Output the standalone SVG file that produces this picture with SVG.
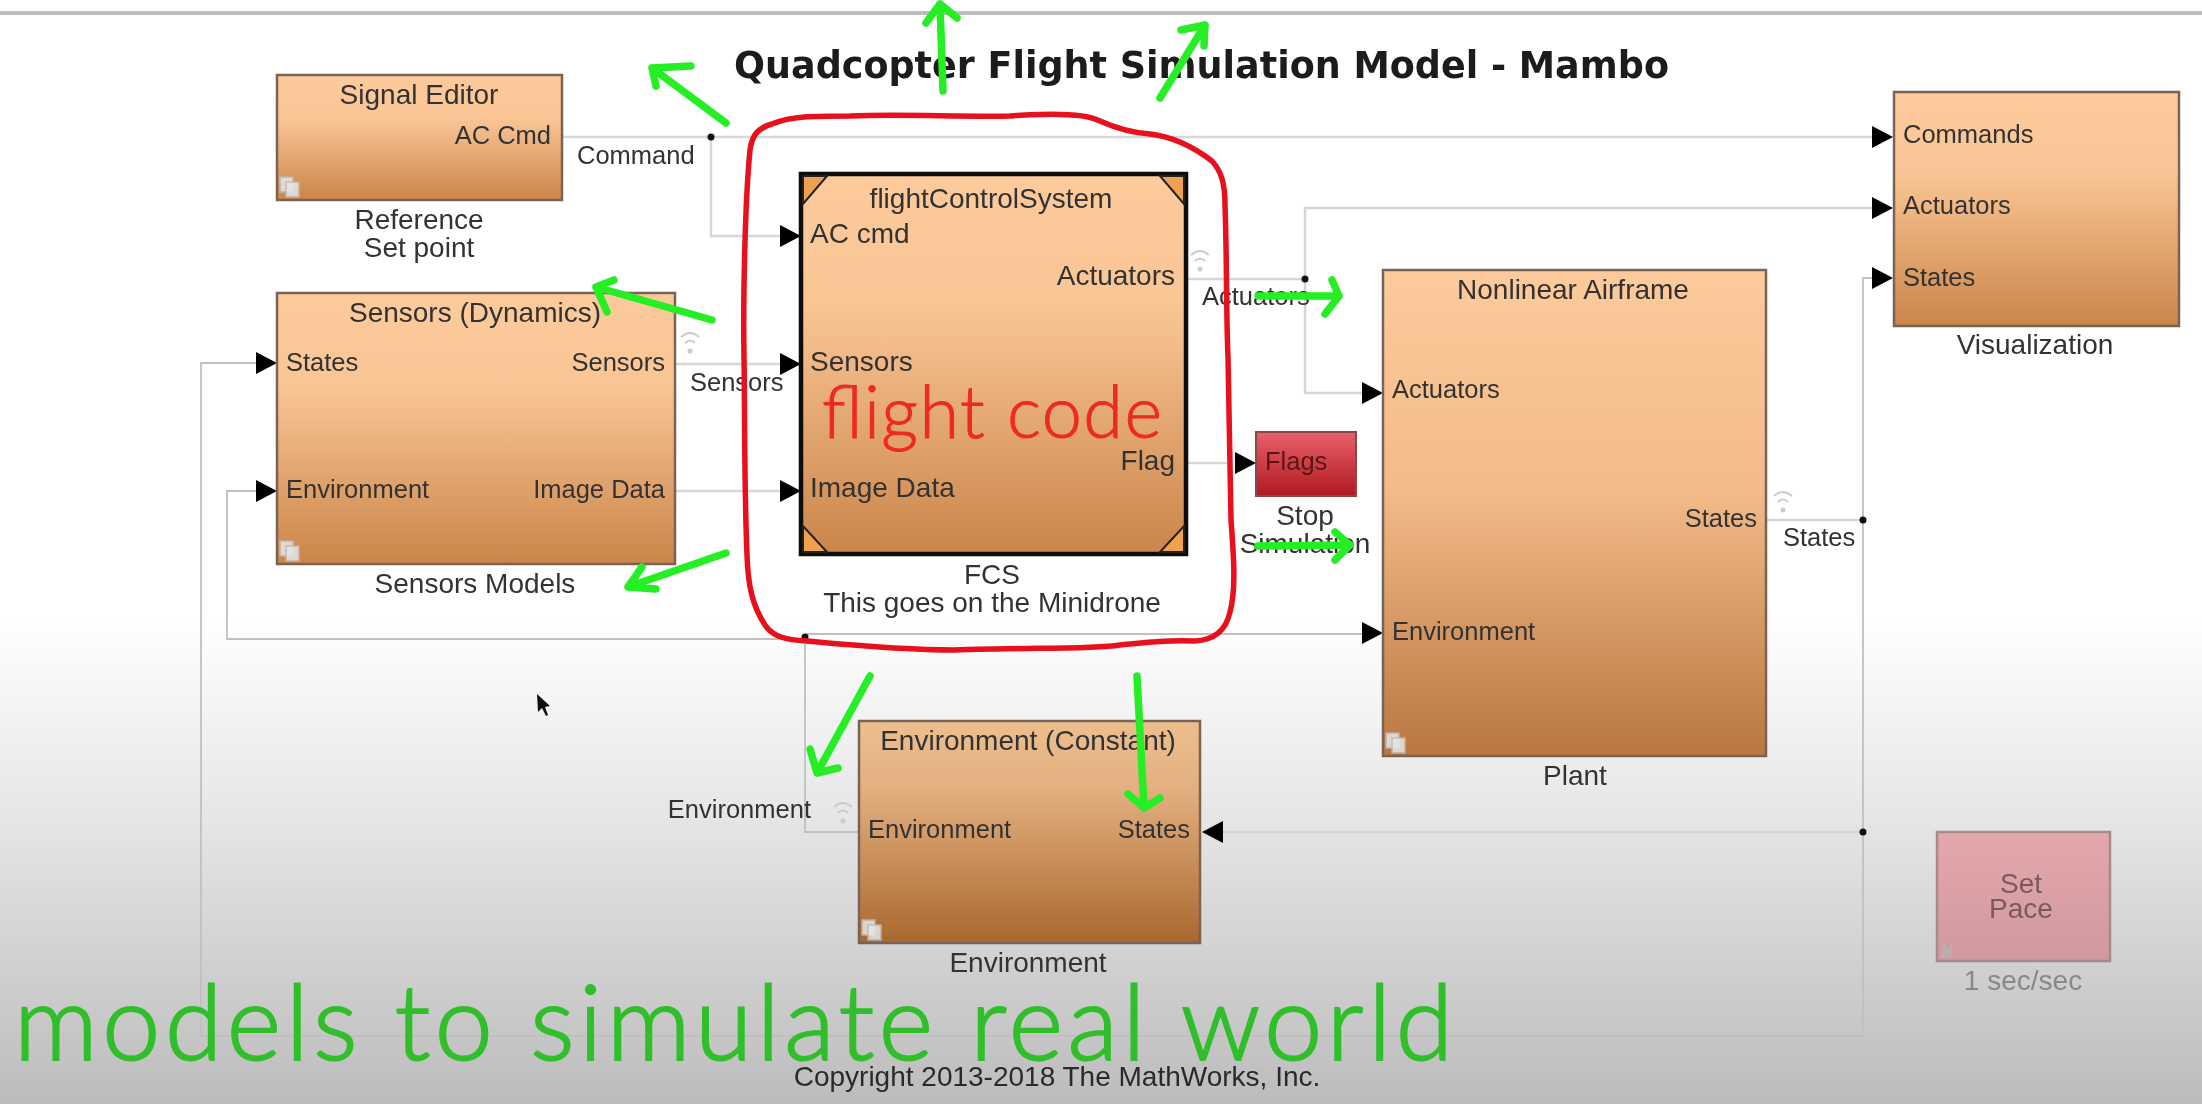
<svg xmlns="http://www.w3.org/2000/svg" width="2202" height="1104" viewBox="0 0 2202 1104">
<style>
text{font-family:"Liberation Sans",Arial,sans-serif;fill:#333}
.p{font-size:25.5px}.t{font-size:28px}.e{text-anchor:end}.m{text-anchor:middle}
.b{stroke:#7a6454;stroke-width:2.5}
.w{fill:none;stroke:#d6d6d6;stroke-width:2.5}
.w2{fill:none;stroke:#c0c0c0;stroke-width:1.8}
.ar{fill:#000}
.j{fill:#111}
.ic{fill:none;stroke:#ccc;stroke-width:2}
.sub{fill:#e6e6e6;stroke:#bbb;stroke-width:1.5;opacity:.85}
.g{fill:none;stroke:#25ee25;stroke-width:7.5;stroke-linecap:round;stroke-linejoin:round}
.hand{font-family:Lato,"Open Sans",sans-serif;font-weight:300}
</style>
<defs>
<linearGradient id="bg" x1="0" y1="0" x2="0" y2="1"><stop offset="0" stop-color="#fff"/><stop offset=".56" stop-color="#fff"/><stop offset=".72" stop-color="#e9e9e9"/><stop offset="1" stop-color="#bcbcbc"/></linearGradient>
<linearGradient id="o" x1="0" y1="0" x2="0" y2="1"><stop offset="0" stop-color="#fdca9b"/><stop offset=".35" stop-color="#f9c595"/><stop offset="1" stop-color="#cb8549"/></linearGradient>
<linearGradient id="oP" x1="0" y1="0" x2="0" y2="1"><stop offset="0" stop-color="#fdca9b"/><stop offset=".45" stop-color="#f2bb89"/><stop offset="1" stop-color="#ba7740"/></linearGradient>
<linearGradient id="oE" x1="0" y1="0" x2="0" y2="1"><stop offset="0" stop-color="#ecbe8e"/><stop offset=".3" stop-color="#e4b080"/><stop offset="1" stop-color="#a9682f"/></linearGradient>
<linearGradient id="r" x1="0" y1="0" x2="0" y2="1"><stop offset="0" stop-color="#e8606a"/><stop offset="1" stop-color="#b01a20"/></linearGradient>
<linearGradient id="pk" x1="0" y1="0" x2="0" y2="1"><stop offset="0" stop-color="#e5a8ac"/><stop offset="1" stop-color="#cf999e"/></linearGradient>
<filter id="soft" x="0" y="0" width="100%" height="100%"><feGaussianBlur stdDeviation="0.7"/></filter>
<path id="ah" d="M-21,-11 L0,0 L-21,11 Z"/>
<g id="wifi"><path class="ic" d="M-9,-11 Q0,-19 9,-11 M-5,-5 Q0,-10 5,-5"/><circle cx="0" cy="3" r="2.5" fill="#ccc"/></g>
<g id="subi"><rect class="sub" x="0" y="0" width="13" height="15"/><rect class="sub" x="6" y="5" width="13" height="15"/></g>
</defs>
<rect width="2202" height="1104" fill="url(#bg)"/>
<g filter="url(#soft)">
<rect x="0" y="11" width="2202" height="4" fill="#bdbdbd"/>
<text id="title" x="734" y="78" font-size="37" font-weight="700" textLength="935" lengthAdjust="spacingAndGlyphs" style="font-family:'DejaVu Sans',sans-serif;fill:#1c1c1c">Quadcopter Flight Simulation Model - Mambo</text>

<g id="connectors">
<path class="w" d="M562,137 H1872"/>
<path class="w" d="M711,137 V236 H780"/>
<path class="w" d="M675,364 H780"/>
<path class="w" d="M675,491 H780"/>
<path class="w2" d="M256,363 H201 V1036 H1863 V278 H1872"/>
<path class="w2" d="M256,491 H227 V639 H805"/>
<path class="w2" d="M805,634 H1362"/>
<path class="w2" d="M805,634 V832 H859"/>
<path class="w" d="M1186,279 H1305 V208 H1872"/>
<path class="w" d="M1305,279 V393 H1362"/>
<path class="w" d="M1186,463 H1233"/>
<path class="w" d="M1766,520 H1863"/>
<path class="w" d="M1223,832 H1863"/>
<use href="#ah" class="ar" x="801" y="236"/>
<use href="#ah" class="ar" x="801" y="364"/>
<use href="#ah" class="ar" x="801" y="491"/>
<use href="#ah" class="ar" x="277" y="363"/>
<use href="#ah" class="ar" x="277" y="491"/>
<use href="#ah" class="ar" x="1893" y="137"/>
<use href="#ah" class="ar" x="1893" y="208"/>
<use href="#ah" class="ar" x="1893" y="278"/>
<use href="#ah" class="ar" x="1383" y="393"/>
<use href="#ah" class="ar" x="1383" y="633"/>
<use href="#ah" class="ar" x="1256" y="463"/>
<path class="ar" d="M1202,832 L1223,821 V843 Z"/>
<circle class="j" cx="711" cy="137" r="3.5"/>
<circle class="j" cx="1305" cy="279" r="3.5"/>
<circle class="j" cx="1863" cy="520" r="3.5"/>
<circle class="j" cx="1863" cy="832" r="3.5"/>
<circle class="j" cx="805" cy="637" r="3.5"/>
<text class="p" x="577" y="164">Command</text>
<text class="p" x="690" y="391">Sensors</text>
<text class="p" x="1202" y="305">Actuators</text>
<text class="p" x="1783" y="546">States</text>
<text class="p e" x="811" y="818">Environment</text>
<use href="#wifi" x="690" y="348"/>
<use href="#wifi" x="1200" y="266"/>
<use href="#wifi" x="843" y="818"/>
<use href="#wifi" x="1783" y="507"/>
</g>

<g id="signal-editor">
<rect class="b" x="277" y="75" width="285" height="125" fill="url(#o)"/>
<text class="t m" x="419" y="104">Signal Editor</text>
<text class="p e" x="551" y="144">AC Cmd</text>
<use href="#subi" x="280" y="177"/>
<text class="t m" x="419" y="229">Reference</text>
<text class="t m" x="419" y="257">Set point</text>
</g>
<g id="sensors">
<rect class="b" x="277" y="293" width="398" height="271" fill="url(#o)"/>
<text class="t m" x="475" y="322">Sensors (Dynamics)</text>
<text class="p" x="286" y="371">States</text>
<text class="p e" x="665" y="371">Sensors</text>
<text class="p" x="286" y="498">Environment</text>
<text class="p e" x="665" y="498">Image Data</text>
<use href="#subi" x="280" y="541"/>
<text class="t m" x="475" y="593">Sensors Models</text>
</g>
<g id="fcs">
<rect x="801" y="174" width="385" height="380" fill="url(#o)" stroke="#111" stroke-width="4.5"/>
<path d="M803,176 H827 L803,204 Z M1184,176 H1160 L1184,204 Z M803,552 H827 L803,526 Z M1184,552 H1160 L1184,526 Z" fill="#f0a050" stroke="#222" stroke-width="2"/>
<text class="t m" x="991" y="208">flightControlSystem</text>
<text class="t" x="810" y="243">AC cmd</text>
<text class="t e" x="1175" y="285">Actuators</text>
<text class="t" x="810" y="371">Sensors</text>
<text class="t e" x="1175" y="470">Flag</text>
<text class="t" x="810" y="497">Image Data</text>
<text class="t m" x="992" y="584">FCS</text>
<text class="t m" x="992" y="612">This goes on the Minidrone</text>
</g>
<g id="flags">
<rect x="1256" y="432" width="100" height="64" fill="url(#r)" stroke="#8a4a4a" stroke-width="2"/>
<text class="p" x="1265" y="470" style="fill:#5a1612">Flags</text>
<text class="t m" x="1305" y="525">Stop</text>
<text class="t m" x="1305" y="553">Simulation</text>
</g>
<g id="plant">
<rect class="b" x="1383" y="270" width="383" height="486" fill="url(#oP)"/>
<text class="t m" x="1573" y="299">Nonlinear Airframe</text>
<text class="p" x="1392" y="398">Actuators</text>
<text class="p" x="1392" y="640">Environment</text>
<text class="p e" x="1757" y="527">States</text>
<use href="#subi" x="1386" y="733"/>
<text class="t m" x="1575" y="785">Plant</text>
</g>
<g id="visualization">
<rect class="b" x="1894" y="92" width="285" height="234" fill="url(#o)"/>
<text class="p" x="1903" y="143">Commands</text>
<text class="p" x="1903" y="214">Actuators</text>
<text class="p" x="1903" y="286">States</text>
<text class="t m" x="2035" y="354">Visualization</text>
</g>
<g id="environment">
<rect class="b" x="859" y="721" width="341" height="222" fill="url(#oE)"/>
<text class="t m" x="1028" y="750">Environment (Constant)</text>
<text class="p" x="868" y="838">Environment</text>
<text class="p e" x="1190" y="838">States</text>
<use href="#subi" x="862" y="920"/>
<text class="t m" x="1028" y="972">Environment</text>
</g>
<g id="set-pace">
<rect x="1937" y="832" width="173" height="129" fill="url(#pk)" stroke="#a88a8c" stroke-width="2.5"/>
<text class="t m" x="2021" y="893" style="fill:#7a5a5e">Set</text>
<text class="t m" x="2021" y="918" style="fill:#7a5a5e">Pace</text>
<text class="t m" x="2023" y="990" style="fill:#888">1 sec/sec</text>
<path d="M1941,958 l3,-18 l4,8 l5,-6 l-2,16 Z" fill="#bcaeae"/>
</g>
<text id="copyright" class="t m" x="1057" y="1086" style="fill:#2a2a2a">Copyright 2013-2018 The MathWorks, Inc.</text>
<path id="cursor" d="M537,694 L538,712 L542,708 L546,716 L548,715 L545,707 L550,706 Z" fill="#111"/>
</g>

<g id="annotations">
<path d="M750,150 C752,135 758,128 772,124 C790,116 814,116 850,116 C900,114 960,117 1010,116 C1050,113 1085,113 1100,121 C1120,130 1135,133 1150,134 C1175,137 1195,148 1212,161 C1222,172 1225,185 1225,205 C1227,260 1226,310 1228,357 C1229,420 1230,470 1231,520 C1234,560 1236,590 1230,612 C1226,630 1215,640 1195,641 C1170,640 1150,642 1120,645 C1090,650 1020,647 954,650 C900,650 850,645 807,641 C785,640 772,636 765,625 C752,605 748,585 747,555 C744,480 745,420 744,357 C743,300 745,200 750,150 Z" fill="none" stroke="#e8101c" stroke-width="5.5" stroke-linejoin="round"/>
<text class="hand" x="822" y="438" font-size="72" textLength="340" lengthAdjust="spacing" style="fill:#ee2a20;stroke:#ee2a20;stroke-width:1">flight code</text>
<path class="g" d="M726,123 L652,68 M691,66 L652,68 L656,86"/>
<path class="g" d="M943,91 L940,4 M926,23 L940,4 L957,18"/>
<path class="g" d="M1160,98 L1205,25 M1181,30 L1205,25 L1204,46"/>
<path class="g" d="M712,320 L596,287 M614,280 L596,287 L607,312"/>
<path class="g" d="M726,553 L628,587 M642,567 L628,587 L656,589"/>
<path class="g" d="M870,676 L817,773 M810,749 L817,773 L838,768"/>
<path class="g" d="M1137,676 L1144,808 M1128,794 L1144,808 L1160,798"/>
<path class="g" d="M1258,296 L1339,296 M1332,280 L1339,296 L1325,314"/>
<path class="g" d="M1258,546 L1350,545 M1335,532 L1350,545 L1335,560"/>
<text class="hand" x="14" y="1060" font-size="104" textLength="1439" lengthAdjust="spacing" style="fill:#30bf2a;stroke:#30bf2a;stroke-width:2">models to simulate real world</text>
</g>
</svg>
